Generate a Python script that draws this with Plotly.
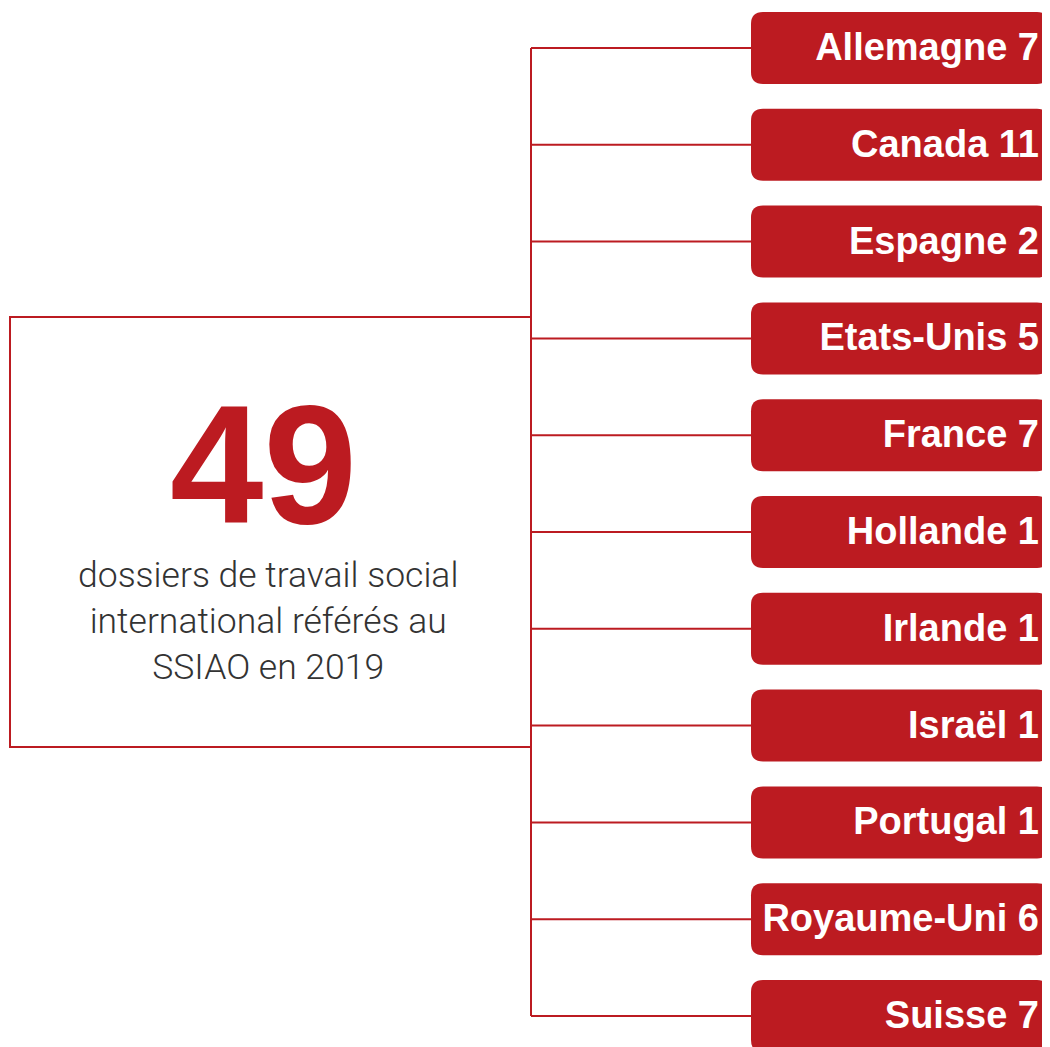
import plotly.graph_objects as go

# ---- data ----
countries = ["Allemagne", "Canada", "Espagne", "Etats-Unis", "France", "Hollande",
             "Irlande", "Israël", "Portugal", "Royaume-Uni", "Suisse"]
counts = [7, 11, 2, 5, 7, 1, 1, 1, 1, 6, 7]
subtitle_lines = ["dossiers de travail social", "international référés au", "SSIAO en 2019"]

RED = "#BC1B21"
W, H = 1050, 1047
OFF = 8  # page body margin compensation

# layout geometry (pixel space of the reference)
y_first, y_last = 48, 1016
n = len(countries)
step = (y_last - y_first) / (n - 1)
ys = [y_first + i * step for i in range(n)]
x_trunk = 531
x_box0, x_box1 = 751, 1049
box_half = 36
radius = 12
text_dy = 2.5

fig = go.Figure()

# connector lines
lx, ly = [x_trunk, x_trunk, None], [ys[0], ys[-1], None]
for y in ys:
    lx += [x_trunk, x_box0, None]
    ly += [y, y, None]
fig.add_trace(go.Scatter(x=lx, y=ly, mode="lines", line=dict(color=RED, width=2),
                         hoverinfo="skip", showlegend=False))

# rounded boxes
def rounded(x0, x1, y0, y1, r):
    return (f"M {x0+r},{y0} L {x1-r},{y0} Q {x1},{y0} {x1},{y0+r} "
            f"L {x1},{y1-r} Q {x1},{y1} {x1-r},{y1} L {x0+r},{y1} "
            f"Q {x0},{y1} {x0},{y1-r} L {x0},{y0+r} Q {x0},{y0} {x0+r},{y0} Z")

for y in ys:
    fig.add_shape(type="path", path=rounded(x_box0, x_box1, y - box_half, y + box_half, radius),
                  xref="x", yref="y", fillcolor=RED, line=dict(width=0), layer="below")

# labels
fig.add_trace(go.Scatter(
    x=[1039] * n, y=[y + text_dy for y in ys], mode="text",
    text=[f"<b>{c} {v}</b>" for c, v in zip(countries, counts)],
    textposition="middle left",
    textfont=dict(family="Liberation Sans, Arial, sans-serif", size=38, color="white"),
    hoverinfo="skip", showlegend=False))

# left box
fig.add_shape(type="rect", x0=10, x1=x_trunk, y0=317, y1=747, xref="x", yref="y",
              line=dict(color=RED, width=2), fillcolor="rgba(0,0,0,0)")

# big total
total = sum(counts)
fig.add_annotation(x=263, y=465, xref="x", yref="y", text=f"<b>{total}</b>", showarrow=False,
                   font=dict(family="Liberation Sans, Arial, sans-serif", size=168, color=RED),
                   xanchor="center", yanchor="middle")

fig.add_annotation(x=268, y=621, xref="x", yref="y", text="<br>".join(subtitle_lines),
                   showarrow=False, align="center",
                   font=dict(family="Roboto, Liberation Sans, sans-serif", size=35.5,
                             color="#333333", weight=300),
                   xanchor="center", yanchor="middle")

fig.update_xaxes(range=[OFF, W], visible=False, fixedrange=True)
fig.update_yaxes(range=[H, OFF], visible=False, fixedrange=True)
fig.update_layout(width=W - OFF, height=H - OFF, margin=dict(l=0, r=0, t=0, b=0),
                  plot_bgcolor="white", paper_bgcolor="white")

fig.write_html("out.html")
